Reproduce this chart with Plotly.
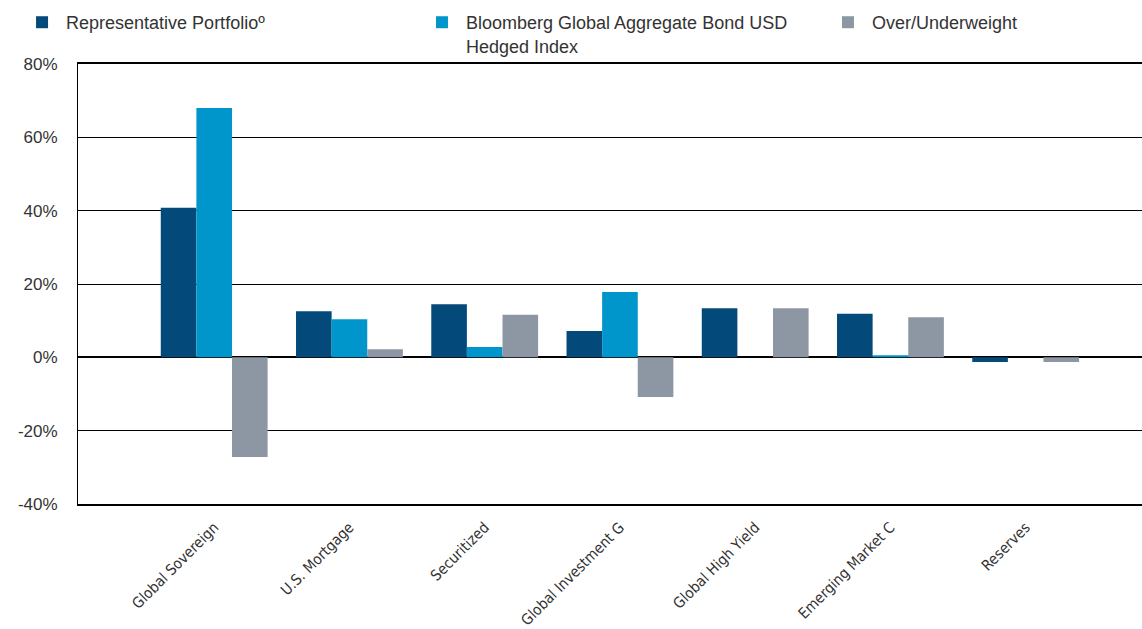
import plotly.graph_objects as go

categories = ["Global Sovereign", "U.S. Mortgage", "Securitized", "Global Investment G",
              "Global High Yield", "Emerging Market C", "Reserves"]
portfolio = [40.8, 12.6, 14.5, 7.2, 13.4, 11.9, -1.3]
benchmark = [68.0, 10.4, 2.8, 17.8, 0.0, 0.6, 0.0]
over_under = [-27.2, 2.2, 11.6, -10.8, 13.4, 10.9, -1.3]

series_names = ["Representative Portfolioº",
                "Bloomberg Global Aggregate Bond USD<br>Hedged Index",
                "Over/Underweight"]
colors = ["#034A7A", "#0096CC", "#8C97A3"]
tick_vals = [-40, -20, 0, 20, 40, 60, 80]
tick_text = ["-40%", "-20%", "0%", "20%", "40%", "60%", "80%"]

legend_ids = ["legend", "legend2", "legend3"]
legend_x = [0.0158, 0.366, 0.7215]

fig = go.Figure()
for name, vals, col, lg in zip(series_names, [portfolio, benchmark, over_under], colors, legend_ids):
    fig.add_trace(go.Bar(x=categories, y=vals, name=name, marker_color=col,
                         marker_line_width=0, legend=lg, showlegend=True))

legend_common = dict(orientation="h", xref="container", yref="container",
                     y=0.9936, xanchor="left", yanchor="top",
                     bgcolor="rgba(0,0,0,0)", itemwidth=38,
                     font=dict(size=18, color="#333333"),
                     valign="top", itemclick=False)

fig.update_layout(
    width=1142, height=629,
    showlegend=True,
    margin=dict(l=78, r=0, t=64, b=125, autoexpand=False),
    paper_bgcolor="white", plot_bgcolor="white",
    barmode="group", bargap=0.21, bargroupgap=0,
    font=dict(family="Liberation Sans, Arial, sans-serif", color="#333333", size=17),
    legend=dict(x=legend_x[0], **legend_common),
    legend2=dict(x=legend_x[1], **legend_common),
    legend3=dict(x=legend_x[2], **legend_common),
    xaxis=dict(range=[-1.007, 6.86], showgrid=False,
               showline=True, linecolor="#000000", linewidth=1.5, mirror=True,
               ticks="", tickangle=-45, ticklabelstandoff=7,
               tickfont=dict(family="Liberation Sans Narrow, DejaVu Sans Condensed, Liberation Sans, Arial",
                             size=15, color="#333333")),
    yaxis=dict(range=[-40, 80], tickvals=tick_vals, ticktext=tick_text,
               showgrid=True, gridcolor="#000000", gridwidth=1,
               zeroline=True, zerolinecolor="#000000", zerolinewidth=1.5,
               showline=True, linecolor="#000000", linewidth=1, mirror=False,
               ticks="", ticklabelstandoff=16,
               tickfont=dict(size=17, color="#333333")),
)

fig.write_html("out.html")
